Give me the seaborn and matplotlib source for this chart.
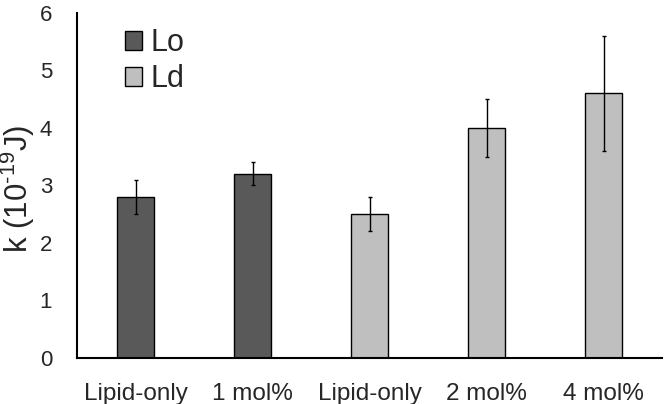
import numpy as np
import pandas as pd
import matplotlib
matplotlib.use("Agg")
import matplotlib.pyplot as plt
import seaborn as sns

# data
slots = ["lo_lipid", "lo_1mol", "ld_lipid", "ld_2mol", "ld_4mol"]
tick_labels = ["Lipid-only", "1 mol%", "Lipid-only", "2 mol%", "4 mol%"]
phase = ["Lo", "Lo", "Ld", "Ld", "Ld"]
k_vals = [2.8, 3.2, 2.5, 4.0, 4.6]
k_err = [0.3, 0.2, 0.3, 0.5, 1.0]

df = pd.DataFrame({"slot": slots, "phase": phase, "k": k_vals, "err": k_err})

sns.set_theme(style="white")
plt.rcParams["font.family"] = ["Liberation Sans", "DejaVu Sans"]
plt.rcParams["mathtext.fontset"] = "custom"
plt.rcParams["mathtext.rm"] = "Liberation Sans"

fig, ax = plt.subplots(figsize=(6.64, 4.04), dpi=100)
fig.subplots_adjust(left=0.116, right=0.997, bottom=0.114, top=0.968)

sns.barplot(data=df, x="slot", y="k", hue="phase", order=slots,
            hue_order=["Lo", "Ld"], palette={"Lo": "#595959", "Ld": "#bfbfbf"},
            dodge=False, width=0.32, edgecolor="black", linewidth=1.0,
            errorbar=None, ax=ax)

ax.errorbar(np.arange(len(slots)), df["k"], yerr=df["err"], fmt="none",
            ecolor="black", elinewidth=1.0, capsize=1.5, capthick=1.0)

ax.set_ylim(0, 6)
ax.set_xlim(-0.5, 4.5)
ax.set_yticks(range(0, 7))
ax.set_xticks(range(len(slots)))
ax.set_xticklabels(tick_labels)
ax.tick_params(axis="x", labelsize=17.5, length=0, pad=18)
ax.tick_params(axis="y", labelsize=16, length=0, pad=18)
ax.set_xlabel("")
ax.set_ylabel(r"k (10$^{\text{-19}}$J)", fontsize=22.5)
ax.yaxis.set_label_coords(-0.068, 0.49)

sns.despine(ax=ax)
for s in ["left", "bottom"]:
    ax.spines[s].set_color("black")
    ax.spines[s].set_linewidth(1.5)

leg = ax.legend(loc="upper left", bbox_to_anchor=(0.035, 1.035), frameon=False,
                fontsize=22, handlelength=0.55, handleheight=0.55,
                handletextpad=0.3, labelspacing=0.2)

fig.savefig("out.png", dpi=100)
